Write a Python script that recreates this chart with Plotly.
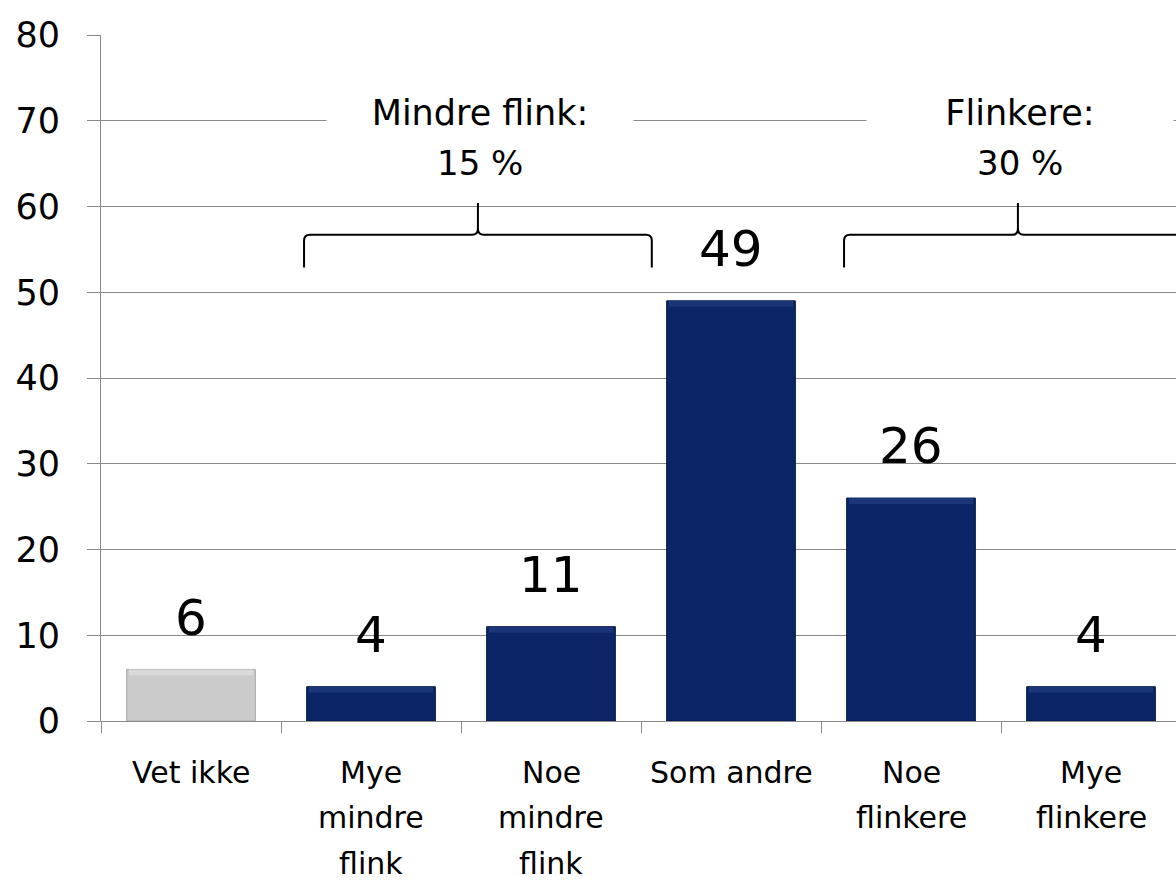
import plotly.graph_objects as go

# ---- data ----
categories = ["Vet ikke", "Mye mindre flink", "Noe mindre flink", "Som andre", "Noe flinkere", "Mye flinkere"]
category_lines = [["Vet ikke"], ["Mye", "mindre", "flink"], ["Noe", "mindre", "flink"],
                  ["Som andre"], ["Noe", "flinkere"], ["Mye", "flinkere"]]
values = [6, 4, 11, 49, 26, 4]
bar_colors = ["#cbcbcb", "#0b2567", "#0b2567", "#0b2567", "#0b2567", "#0b2567"]
bar_top_colors = ["#d9d9d9", "#1a3679", "#1a3679", "#1a3679", "#1a3679", "#1a3679"]
bar_lines = ["#a6a6a6", "#06184a", "#06184a", "#06184a", "#06184a", "#06184a"]
group_names = ["Mindre flink:", "Flinkere:"]
group_pcts = [15, 30]
group_members = [[1, 2], [4, 5]]
y_ticks = [0, 10, 20, 30, 40, 50, 60, 70, 80]

FONT = "DejaVu Sans"
GRID = "#8a8a8a"

W, H = 1176, 881
ML, MT = 101, 35
plot_h = 686
MB = H - MT - plot_h
cat_px = 180.0
x0r = -0.5
x1r = x0r + (W - ML) / cat_px
ux = 1.0 / cat_px          # data units per pixel in x
uy = 80.0 / plot_h         # data units per pixel in y

xs = list(range(len(categories)))
band = 6 * uy

fig = go.Figure()
fig.add_trace(go.Bar(
    x=xs, y=values, width=0.715,
    marker=dict(color=bar_colors, line=dict(color=bar_lines, width=1)),
    hovertext=categories, hoverinfo="text+y",
))
# subtle lighter top bevel band
fig.add_trace(go.Bar(
    x=xs, y=[band] * len(values), base=[v - band for v in values], width=0.69,
    marker=dict(color=bar_top_colors, line=dict(width=0)),
    hoverinfo="skip",
))

# data labels
for i, v in enumerate(values):
    fig.add_annotation(x=i, y=v, text=str(v), showarrow=False, yanchor="bottom",
                       yshift=21, font=dict(family=FONT, size=50, color="black"))

# category labels (multi-line, wide spacing)
for i, lines in enumerate(category_lines):
    for j, ln in enumerate(lines):
        fig.add_annotation(x=i, y=0, text=ln, showarrow=False, yanchor="middle", borderpad=0,
                           yshift=-(51 + 45.5 * j), font=dict(family=FONT, size=30, color="black"))

# braces and group labels
yb, yt, ytip = 52.9, 56.7, 60.4
for g, members in enumerate(group_members):
    bx0 = members[0] - 0.372
    bx1 = members[-1] + 0.56
    bm = (bx0 + bx1) / 2
    r = 6
    path = (f"M {bx0},{yb} L {bx0},{yt - r*uy} Q {bx0},{yt} {bx0 + r*ux},{yt} "
            f"L {bm - r*ux},{yt} Q {bm},{yt} {bm},{yt + r*uy} L {bm},{ytip} "
            f"M {bm},{ytip} L {bm},{yt + r*uy} Q {bm},{yt} {bm + r*ux},{yt} "
            f"L {bx1 - r*ux},{yt} Q {bx1},{yt} {bx1},{yt - r*uy} L {bx1},{yb}")
    fig.add_shape(type="path", path=path, xref="x", yref="y",
                  line=dict(color="black", width=2))
    fig.add_annotation(x=bm + 2*ux, y=70.9, text=group_names[g], showarrow=False,
                       yanchor="middle", width=304, bgcolor="white",
                       font=dict(family=FONT, size=35, color="black"))
    fig.add_annotation(x=bm + 2*ux, y=65.1, text=f"{group_pcts[g]} %", showarrow=False,
                       yanchor="middle", font=dict(family=FONT, size=34, color="black"))

fig.update_layout(
    width=W, height=H,
    margin=dict(l=ML, r=0, t=MT, b=MB, pad=0),
    paper_bgcolor="white", plot_bgcolor="white",
    showlegend=False, barmode="overlay",
    xaxis=dict(range=[x0r, x1r], tickvals=[k - 0.5 for k in range(len(categories) + 1)],
               showticklabels=False, ticks="outside", ticklen=11, tickcolor=GRID, tickwidth=1,
               showline=True, linecolor=GRID, linewidth=1, showgrid=False, zeroline=False,
               fixedrange=True),
    yaxis=dict(range=[0, 80], tickvals=y_ticks, showgrid=True, gridcolor=GRID, gridwidth=1,
               ticks="outside", ticklen=13, tickcolor=GRID, tickwidth=1,
               showline=True, linecolor=GRID, linewidth=1, zeroline=False,
               ticklabelstandoff=20,
               tickfont=dict(family=FONT, size=35, color="black"), fixedrange=True),
)

fig.write_html("out.html", config={"displayModeBar": False},
               post_script="document.body.style.margin='0px';document.body.style.overflow='hidden';")
